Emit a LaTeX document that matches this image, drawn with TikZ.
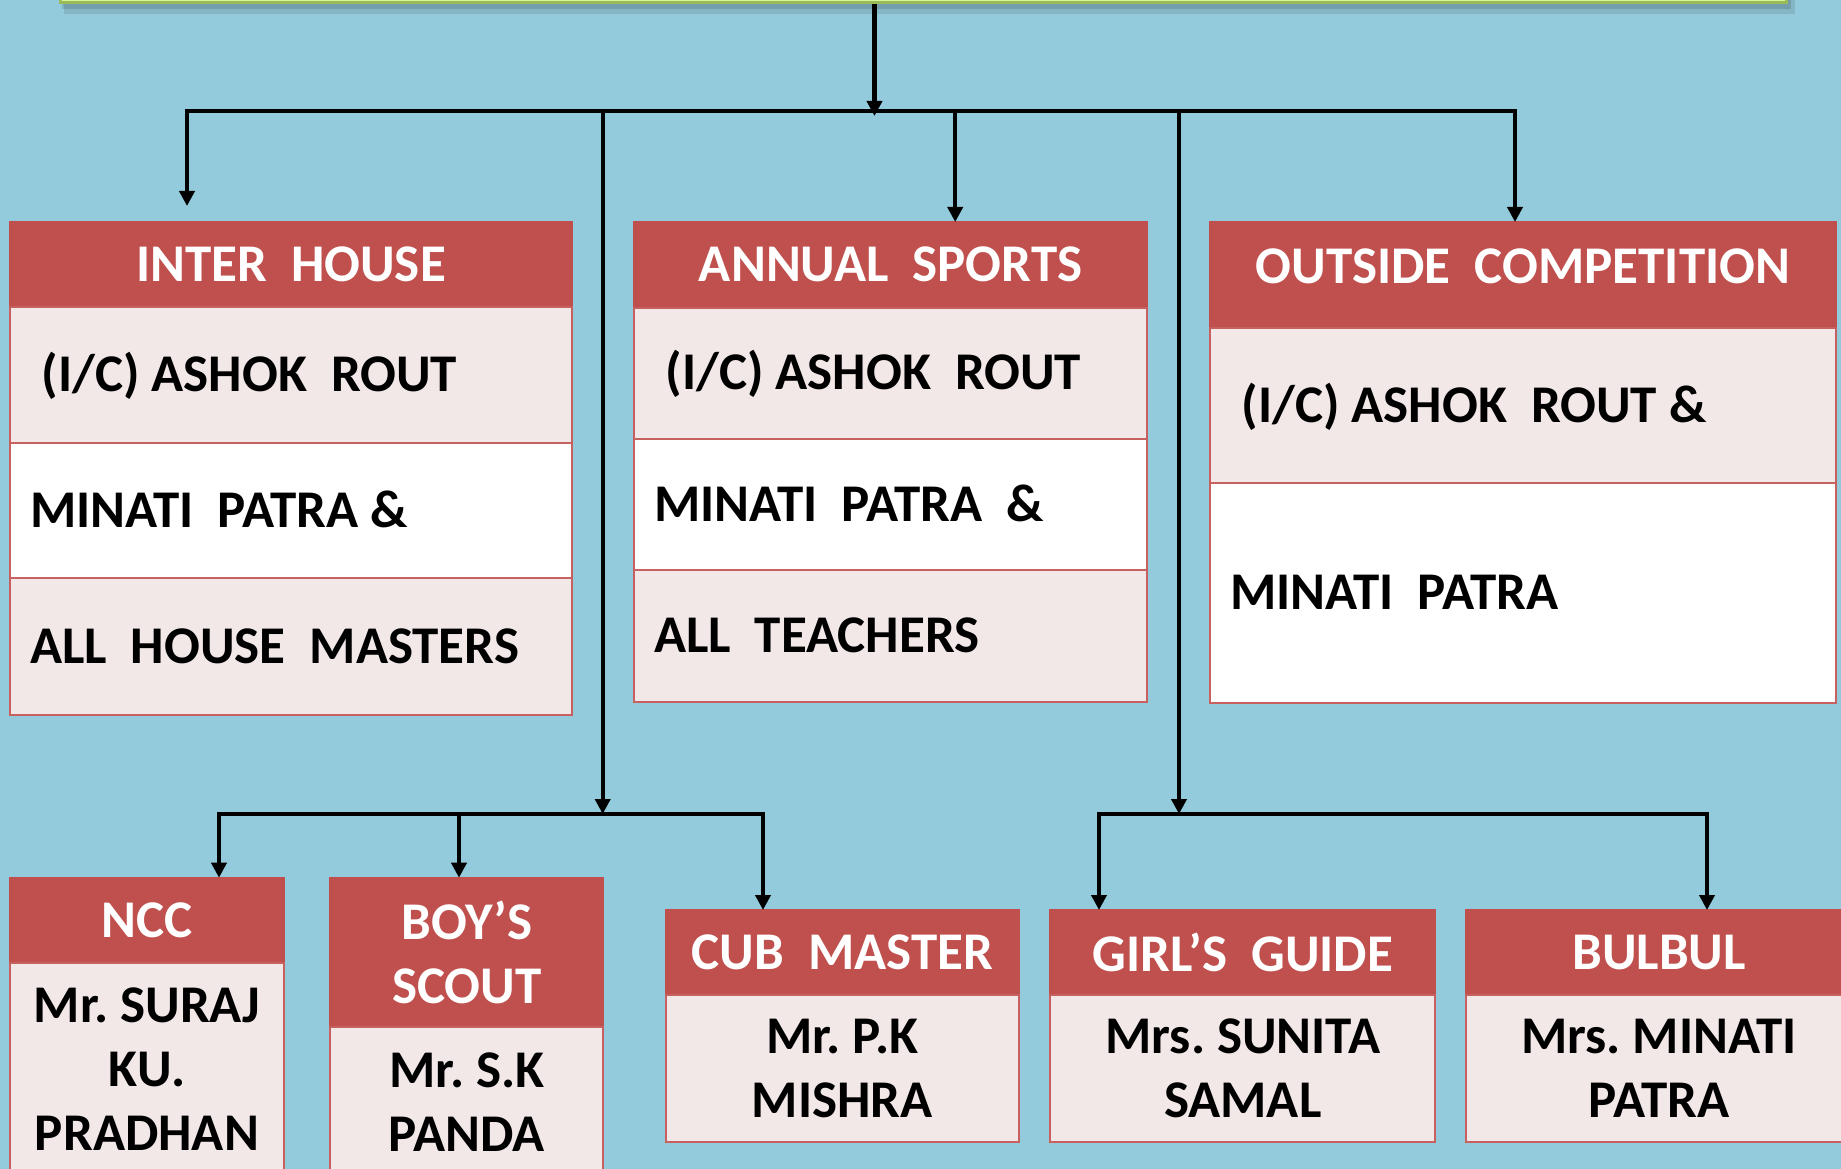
\documentclass[tikz,border=0pt]{standalone}
\usepackage{fontspec}
\setmainfont{Carlito}
\usepackage{xcolor}
\usepackage{tikz}
\usetikzlibrary{arrows.meta}

\definecolor{bgblue}{RGB}{147,203,221}
\definecolor{hdrred}{RGB}{192,80,77}
\definecolor{rowpink}{RGB}{242,232,232}
\definecolor{limefill}{RGB}{214,246,156}
\definecolor{limeedge}{RGB}{155,187,89}

\begin{document}
\begin{tikzpicture}[
  x=1pt,y=-1pt,
  font=\fontsize{53}{64}\selectfont\bfseries,
  topbox/.style={fill=limefill,draw=limeedge,line width=3pt,minimum width=1726pt,minimum height=34pt},
  hcell/.style={anchor=north west,fill=hdrred,draw=hdrred,line width=2pt,text=white,inner sep=0pt,outer sep=0pt},
  rcell/.style={anchor=north west,fill=rowpink,draw=hdrred!90!white,line width=2pt,inner xsep=20pt,inner ysep=0pt,
    outer sep=0pt,text width=#1,text height=33.5pt,text depth=0pt,
    execute at begin node={\frenchspacing\spaceskip=0pt\xspaceskip=0pt\relax}},
  wcell/.style={rcell=#1,fill=white},
  bcell/.style={anchor=north west,fill=rowpink,draw=hdrred!90!white,line width=2pt,inner sep=0pt,outer sep=0pt,align=center,
    execute at begin node={\frenchspacing\spaceskip=0pt\xspaceskip=0pt\relax}},
  arr/.style={line width=4.3pt,-{Triangle[length=15pt,width=15pt]}},
  arrs/.style={line width=4.3pt,{Triangle[length=15pt,width=15pt]}-{Triangle[length=15pt,width=15pt]}},
]
\useasboundingbox (0,0) rectangle (1841,1169);
\clip (0,0) rectangle (1841,1169);
\fill[bgblue] (0,0) rectangle (1841,1169);

% top box
\fill[black,opacity=0.1] (64,-20) rectangle (1795,14);
\fill[black,opacity=0.12] (62,-20) rectangle (1791,9);
\node[topbox] (top) at (923,-14) {};

% inter house
\node[hcell,minimum width=562pt,minimum height=85.5pt] (ih) at (10,221.5) {INTER\ \ HOUSE};
\node[rcell=522pt,minimum height=135.5pt] (ih1) at (ih.south west) {\hspace*{0.22em}(I/C) ASHOK\ \ ROUT};
\node[wcell=522pt,minimum height=135.5pt] (ih2) at (ih1.south west) {MINATI\ \ PATRA \&};
\node[rcell=522pt,minimum height=136.5pt] (ih3) at (ih2.south west) {ALL\ \ HOUSE\ \ MASTERS};

% annual sports
\node[hcell,minimum width=513pt,minimum height=85.5pt] (as) at (634,222) {ANNUAL\ \ SPORTS};
\node[rcell=473pt,minimum height=131.4pt] (as1) at (as.south west) {\hspace*{0.22em}(I/C) ASHOK\ \ ROUT};
\node[wcell=473pt,minimum height=131.4pt] (as2) at (as1.south west) {MINATI\ \ PATRA\ \ \&};
\node[rcell=473pt,minimum height=131.4pt] (as3) at (as2.south west) {ALL\ \ TEACHERS};

% outside competition
\node[hcell,minimum width=626pt,minimum height=106.3pt,text depth=18pt] (oc) at (1210,222) {OUTSIDE\ \ COMPETITION};
\node[rcell=586pt,minimum height=154.4pt] (oc1) at (oc.south west) {\hspace*{0.22em}(I/C) ASHOK\ \ ROUT \&};
\node[wcell=586pt,minimum height=220.6pt] (oc2) at (oc1.south west) {MINATI\ \ PATRA};

% lower boxes
\node[hcell,minimum width=274pt,minimum height=85pt] (ncc) at (10,877.7) {NCC};
\node[bcell,minimum width=274pt,minimum height=212.6pt] (ncc1) at (ncc.south west) {Mr. SURAJ\\KU.\\PRADHAN};
\node[hcell,align=center,minimum width=273pt,minimum height=149.6pt] (bs) at (330.4,877.7) {BOY’S\\SCOUT};
\node[bcell,minimum width=273pt,minimum height=149pt] (bs1) at (bs.south west) {Mr. S.K\\PANDA};
\node[hcell,minimum width=352.7pt,minimum height=85pt] (cub) at (666,910) {CUB\ \ MASTER};
\node[bcell,minimum width=352.7pt,minimum height=146.7pt] (cub1) at (cub.south west) {Mr. P.K\\MISHRA};
\node[hcell,minimum width=384.6pt,minimum height=85pt] (gg) at (1050.4,910) {GIRL’S\ \ GUIDE};
\node[bcell,minimum width=384.6pt,minimum height=146.7pt] (gg1) at (gg.south west) {Mrs. SUNITA\\SAMAL};
\node[hcell,minimum width=386pt,minimum height=85pt] (bb) at (1466,910) {BULBUL};
\node[bcell,minimum width=386pt,minimum height=146.7pt] (bb1) at (bb.south west) {Mrs. MINATI\\PATRA};

% connectors
\coordinate (b0) at (874.5,116);
\coordinate (b1) at (187,111);
\coordinate (b2) at (602.7,111);
\coordinate (b3) at (955.2,111);
\coordinate (b4) at (1179,111);
\coordinate (b5) at (1515,111);
\coordinate (c1) at (219,814);
\coordinate (c2) at (459,814);
\coordinate (c3) at (763,814);
\coordinate (d1) at (1099,814);
\coordinate (d2) at (1707,814);

\draw[arr] (top.south -| b0) -- (b0);
\draw[arrs,shorten <=15.5pt] (b1 |- ih.north) |- (b5) -- (b5 |- oc.north);
\draw[arr] (b3) -- (b3 |- as.north);
\draw[arr] (b2) -- (b2 |- c1);
\draw[arr] (b4) -- (b4 |- d1);
\draw[arrs] (c1 |- ncc.north) |- (c3) -- (c3 |- cub.north);
\draw[arr] (c2) -- (c2 |- bs.north);
\draw[arrs] (d1 |- gg.north) |- (d2) -- (d2 |- bb.north);
\end{tikzpicture}
\end{document}
